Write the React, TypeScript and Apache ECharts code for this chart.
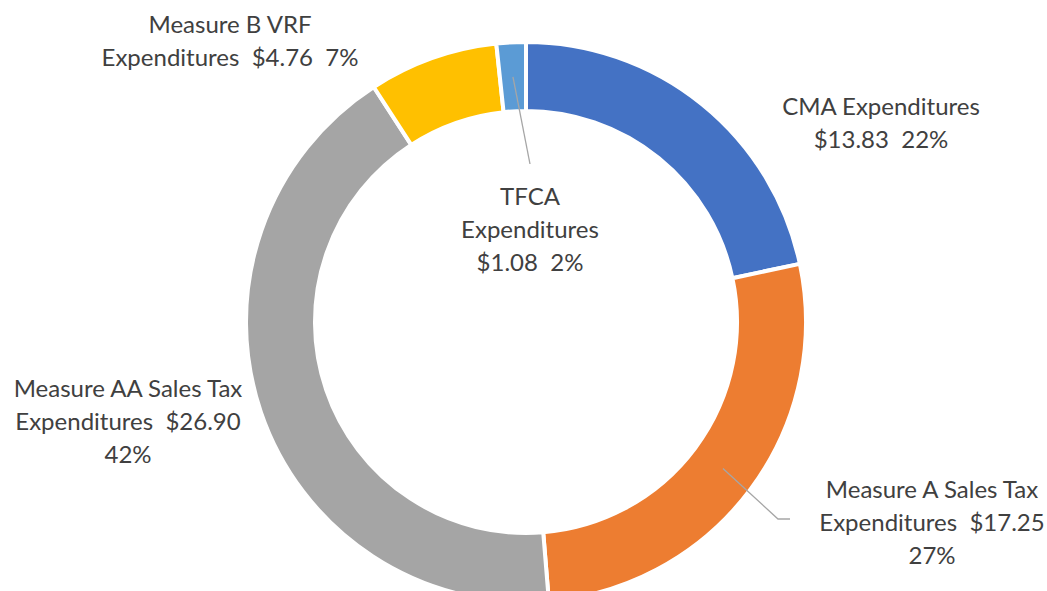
import React, { useEffect, useRef } from "react";
import * as echarts from "echarts";

const categories = [
  "CMA Expenditures",
  "Measure A Sales Tax Expenditures",
  "Measure AA Sales Tax Expenditures",
  "Measure B VRF Expenditures",
  "TFCA Expenditures",
];
const values = [13.83, 17.25, 26.9, 4.76, 1.08];
const colors = ["#4472C4", "#ED7D31", "#A5A5A5", "#FFC000", "#5B9BD5"];
// label templates: {name} full name, {a} name before "Expenditures", {b} "Expenditures", {v} value, {p} percent
const labelTemplates = [
  "{name}\n{v}  {p}",
  "{a}\n{b}  {v}\n{p}",
  "{a}\n{b}  {v}\n{p}",
  "{a}\n{b}  {v}  {p}",
  "{a}\n{b}\n{v}  {p}",
];

const W = 1047;
const H = 591;
const CX = 526;
const CY = 322;
const R_IN = 211;
const R_OUT = 280;
const labelPos: number[][] = [
  [881, 122],
  [932, 521],
  [128, 420],
  [230, 40],
  [530, 228],
];

export default function App() {
  const ref = useRef<HTMLDivElement>(null);
  useEffect(() => {
    if (!ref.current) return;
    const chart = echarts.init(ref.current, undefined, { renderer: "svg" });
    const total = values.reduce((a, b) => a + b, 0);
    const midAngles: number[] = [];
    let cum = 0;
    values.forEach((v) => {
      midAngles.push(((cum + v / 2) / total) * 2 * Math.PI);
      cum += v;
    });
    const rMid = (R_IN + R_OUT) / 2;
    const anchor = (i: number) => [
      CX + rMid * Math.sin(midAngles[i]),
      CY - rMid * Math.cos(midAngles[i]),
    ];
    const leaderA = [anchor(1), [labelPos[1][0] - 154, labelPos[1][1] - 2], [labelPos[1][0] - 142, labelPos[1][1] - 2]];
    const leaderT = [anchor(4), [labelPos[4][0], labelPos[4][1] - 64]];
    const lineStyle = { stroke: "#A6A6A6", lineWidth: 1.3, fill: null };
    chart.setOption({
      animation: false,
      backgroundColor: "#ffffff",
      graphic: [
        { type: "polyline", z: 100, silent: true, shape: { points: leaderA }, style: lineStyle },
        { type: "polyline", z: 100, silent: true, shape: { points: leaderT }, style: lineStyle },
      ],
      series: [
        {
          type: "pie",
          center: [CX, CY],
          radius: [R_IN, R_OUT],
          startAngle: 90,
          clockwise: true,
          avoidLabelOverlap: false,
          percentPrecision: 0,
          itemStyle: { borderColor: "#ffffff", borderWidth: 4 },
          emphasis: { disabled: true },
          label: {
            show: true,
            position: "outside",
            fontFamily: "Lato",
            fontSize: 24,
            lineHeight: 33,
            color: "#404040",
            align: "center",
            formatter: (p: any) => {
              const i = p.dataIndex;
              const name: string = p.name;
              const idx = name.lastIndexOf(" Expenditures");
              const a = name.slice(0, idx);
              const b = "Expenditures";
              return labelTemplates[i]
                .replace("{name}", name)
                .replace("{a}", a)
                .replace("{b}", b)
                .replace("{v}", "$" + Number(p.value).toFixed(2))
                .replace("{p}", p.percent + "%");
            },
          },
          labelLine: { show: false },
          labelLayout: (params: any) => {
            const i = params.dataIndex;
            return {
              x: labelPos[i][0],
              y: labelPos[i][1],
              align: "center",
              verticalAlign: "middle",
            };
          },
          data: categories.map((name, i) => ({
            name,
            value: values[i],
            itemStyle: { color: colors[i] },
          })),
        },
      ],
    });
    return () => chart.dispose();
  }, []);
  return (
    <div
      ref={ref}
      style={{ position: "absolute", left: 0, top: 0, width: W, height: H, background: "#fff" }}
    />
  );
}
